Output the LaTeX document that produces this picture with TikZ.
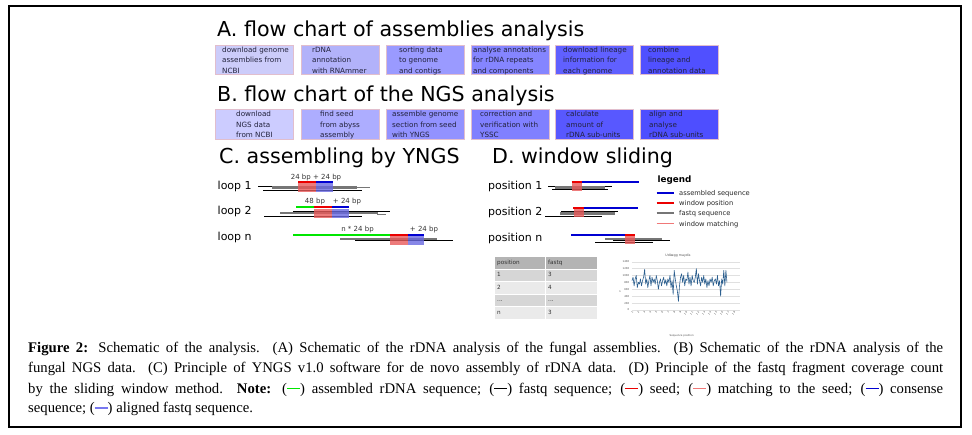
\documentclass[tikz,border=0pt]{standalone}
\usepackage{fontspec}
\setmainfont{Liberation Serif}
\newfontfamily\dv{DejaVu Sans}
\usetikzlibrary{calc}
\definecolor{boxedge}{RGB}{225,190,205}
\definecolor{boxtext}{RGB}{34,34,60}
\definecolor{fa1}{RGB}{204,204,250}
\definecolor{fa2}{RGB}{178,178,250}
\definecolor{fa3}{RGB}{154,154,255}
\definecolor{fa4}{RGB}{133,133,255}
\definecolor{fa5}{RGB}{96,96,255}
\definecolor{fa6}{RGB}{80,80,255}
\definecolor{fb1}{RGB}{204,204,255}
\definecolor{fb2}{RGB}{173,173,255}
\definecolor{fb3}{RGB}{146,146,255}
\definecolor{fb4}{RGB}{128,128,255}
\definecolor{fb5}{RGB}{88,88,255}
\definecolor{fb6}{RGB}{78,78,255}
\definecolor{sgreen}{RGB}{0,230,0}
\definecolor{sred}{RGB}{235,0,0}
\definecolor{sblue}{RGB}{0,0,210}
\definecolor{sgray}{RGB}{118,118,118}
\definecolor{lred}{RGB}{240,120,120}
\definecolor{lblue}{RGB}{120,120,240}
\definecolor{hred}{RGB}{232,90,90}
\definecolor{hblue}{RGB}{105,105,225}
\definecolor{thead}{RGB}{180,180,180}
\definecolor{trowa}{RGB}{214,214,214}
\definecolor{trowb}{RGB}{234,234,234}
\definecolor{chartline}{RGB}{44,95,143}
\newcommand\fbx[8]{%
  \node[abox, fill=#4] (#1) at (#2,#3) {};
  \node[btxt] (#1a) at ($(#1.north west)+(#5,7.5)$) {#6};
  \node[btxt] (#1b) at ($(#1.north west)+(#5,18)$) {#7};
  \node[btxt] (#1c) at ($(#1.north west)+(#5,28.3)$) {#8};
}
\newcommand\cdash[1]{(\textcolor{#1}{\rule[3.9pt]{13pt}{1.8pt}})}
\begin{document}
\begin{tikzpicture}[x=1pt,y=-1pt,
  abox/.style={draw=boxedge, line width=0.6pt, minimum width=78pt, minimum height=29.5pt, inner sep=0pt, anchor=north west},
  btxt/.style={font=\dv\fontsize{7.2}{8}\selectfont, text=boxtext, inner sep=0pt, anchor=base west},
  ttl/.style={font=\dv\fontsize{20.6}{24}\selectfont, inner sep=0pt, anchor=base west},
  lbl/.style={font=\dv\fontsize{11}{13}\selectfont, inner sep=0pt, anchor=base west},
  bp/.style={font=\dv\fontsize{7}{8}\selectfont, inner sep=0pt, anchor=base, text=black!80},
  gseq/.style={draw=sgreen, line width=2pt},
  rseq/.style={draw=sred, line width=2pt},
  bseq/.style={draw=sblue, line width=2pt},
  gread/.style={draw=sgray, line width=2.5pt},
  tread/.style={draw=sgray, line width=0.9pt},
  kread/.style={draw=black, line width=0.9pt},
  hr/.style={fill=hred, fill opacity=0.8},
  hb/.style={fill=hblue, fill opacity=0.8},
  legtxt/.style={font=\dv\fontsize{6.7}{8}\selectfont, inner sep=0pt, anchor=base west, text=black!85},
  ttxt/.style={font=\dv\fontsize{5.7}{7}\selectfont, inner sep=0pt, anchor=base west, text=black!80},
  tiny/.style={font=\dv\fontsize{2.6}{3}\selectfont, inner sep=0pt, text=black!70},
  captext/.style={font=\fontsize{14.7}{17}\selectfont, inner sep=0pt, anchor=base west}
]
\useasboundingbox (0,0) rectangle (972,435);
\draw[line width=1.3pt] (9,6) rectangle (961,427);

% ---------- A ----------
\node[ttl] (tA) at (217,37) {A. flow chart of assemblies analysis};
\fbx{a1}{215}{45}{fa1}{7}{download genome}{assemblies from}{NCBI}
\fbx{a2}{301}{45}{fa2}{11}{rDNA}{annotation}{with RNAmmer}
\fbx{a3}{386}{45}{fa3}{13}{sorting data}{to genome}{and contigs}
\fbx{a4}{471}{45}{fa4}{2}{analyse annotations}{for rDNA repeats}{and components}
\fbx{a5}{555}{45}{fa5}{8}{download lineage}{information for}{each genome}
\fbx{a6}{640}{45}{fa6}{8}{combine}{lineage and}{annotation data}

% ---------- B ----------
\node[ttl] (tB) at (217,101.5) {B. flow chart of the NGS analysis};
\fbx{b1}{215}{109.5}{fb1}{21}{download}{NGS data}{from NCBI}
\fbx{b2}{301}{109.5}{fb2}{19}{find seed}{from abyss}{assembly}
\fbx{b3}{386}{109.5}{fb3}{6}{assemble genome}{section from seed}{with YNGS}
\fbx{b4}{471}{109.5}{fb4}{9}{correction and}{verification with}{YSSC}
\fbx{b5}{555}{109.5}{fb5}{11}{calculate}{amount of}{rDNA sub-units}
\fbx{b6}{640}{109.5}{fb6}{9}{align and}{analyse}{rDNA sub-units}

% ---------- C ----------
\node[ttl] (tC) at (219,164) {C. assembling by YNGS};
\node[lbl] (l1) at (217.5,189.3) {loop 1};
\node[lbl] (l2) at (217.5,214.3) {loop 2};
\node[lbl] (ln) at (217.5,240.8) {loop n};

% loop 1
\node[bp] (c1t) at (316,179.5) {24 bp + 24 bp};
\draw[kread] (258,186) -- (350,186);
\draw[gread] (272,187.5) -- (357,187.5);
\draw[tread] (356,187.3) -- (370,187.3);
\draw[kread] (263,190) -- (362,190);
\fill[hr] (298,183.3) rectangle (316,192);
\fill[hb] (316,183.3) rectangle (333,192);
\draw[rseq] (298,182) -- (316,182);
\draw[bseq] (316,182) -- (333,182);

% loop 2
\node[bp] (c2t) at (315,204) {48 bp};
\node[bp] (c2u) at (347,204) {+ 24 bp};
\draw[kread] (293,211) -- (390,211);
\draw[gread] (280,213) -- (378,213);
\draw[tread] (377,214) -- (386,214);
\draw[kread] (264,216.3) -- (362,216.3);
\fill[hr] (314,209) rectangle (332,218.5);
\fill[hb] (332,209) rectangle (349,218.5);
\draw[gseq] (296,207.5) -- (314,207.5);
\draw[rseq] (314,207.5) -- (332,207.5);
\draw[bseq] (332,207.5) -- (349,207.5);

% loop n
\node[bp] (cnt) at (357.5,231.5) {n * 24 bp};
\node[bp] (cnu) at (424,231.5) {+ 24 bp};
\draw[gread] (340,239) -- (437,239);
\draw[kread] (355,240.5) -- (453,240.5);
\fill[hr] (390,236.5) rectangle (408,245);
\fill[hb] (408,236.5) rectangle (424,245);
\draw[gseq] (293,235) -- (390,235);
\draw[rseq] (390,235) -- (408,235);
\draw[bseq] (408,235) -- (424,235);

% ---------- D ----------
\node[ttl] (tD) at (492,164) {D. window sliding};
\node[lbl] (p1) at (488,190) {position 1};
\node[lbl] (p2) at (488,216) {position 2};
\node[lbl] (pn) at (488,241.5) {position n};

% position 1
\draw[kread] (548,186) -- (612,186);
\draw[gread] (555,187.6) -- (605,187.6);
\draw[kread] (552,189.6) -- (608,189.6);
\fill[hr] (572,183.5) rectangle (582,191.2);
\draw[rseq] (571.5,182.5) -- (582,182.5);
\draw[bseq] (582,182.5) -- (639,182.5);

% position 2
\draw[kread] (561,211) -- (618,211);
\draw[gread] (560,213.3) -- (615,213.3);
\draw[kread] (545,216) -- (602,216);
\fill[hr] (574,209.3) rectangle (584,217.5);
\draw[rseq] (573,207.7) -- (584,207.7);
\draw[bseq] (584,207.7) -- (638,207.7);

% position n
\draw[gread] (605,239) -- (662,239);
\draw[kread] (613,240.5) -- (670,240.5);
\draw[kread] (595,242.5) -- (653,242.5);
\fill[hr] (625,236.5) rectangle (635,244.5);
\draw[bseq] (571,235.3) -- (625,235.3);
\draw[rseq] (625,235.3) -- (635,235.3);

% legend
\node[font=\dv\bfseries\fontsize{8.8}{10}\selectfont, inner sep=0pt, anchor=base west] (legt) at (657.5,182.5) {legend};
\coordinate (lg1a) at (656.7,192.7); \coordinate (lg1b) at (674,192.7);
\coordinate (lg2a) at (656.7,203.3); \coordinate (lg2b) at (674,203.3);
\coordinate (lg3a) at (656.7,213.3); \coordinate (lg3b) at (674,213.3);
\coordinate (lg4a) at (656.7,223.7); \coordinate (lg4b) at (674,223.7);
\draw[bseq, line width=1.8pt] (lg1a) -- (lg1b);
\draw[rseq, line width=1.8pt] (lg2a) -- (lg2b);
\draw[draw=sgray, line width=1.8pt] (lg3a) -- (lg3b);
\draw[draw=lred, line width=1.4pt] (lg4a) -- (lg4b);
\node[legtxt] (lgt1) at (679,195.2) {assembled sequence};
\node[legtxt] (lgt2) at (679,205.8) {window position};
\node[legtxt] (lgt3) at (679,215.8) {fastq sequence};
\node[legtxt] (lgt4) at (679,226.2) {window matching};

% table
\begin{scope}[draw=white, line width=0.8pt]
\filldraw[fill=thead] (494,256) rectangle (545,269.3);
\filldraw[fill=thead] (545,256) rectangle (597,269.3);
\filldraw[fill=trowa] (494,269.3) rectangle (545,281.7);
\filldraw[fill=trowa] (545,269.3) rectangle (597,281.7);
\filldraw[fill=trowb] (494,281.7) rectangle (545,294.3);
\filldraw[fill=trowb] (545,281.7) rectangle (597,294.3);
\filldraw[fill=trowa] (494,294.3) rectangle (545,306.7);
\filldraw[fill=trowa] (545,294.3) rectangle (597,306.7);
\filldraw[fill=trowb] (494,306.7) rectangle (545,319.3);
\filldraw[fill=trowb] (545,306.7) rectangle (597,319.3);
\end{scope}
\node[ttxt] (t00) at (497,264.5) {position};
\node[ttxt] (t01) at (548,264.5) {fastq};
\node[ttxt] (t10) at (497,277) {1};
\node[ttxt] (t11) at (548,277) {3};
\node[ttxt] (t20) at (497,289.5) {2};
\node[ttxt] (t21) at (548,289.5) {4};
\node[ttxt] (t30) at (497,302) {...};
\node[ttxt] (t31) at (548,302) {...};
\node[ttxt] (t40) at (497,314.5) {n};
\node[ttxt] (t41) at (548,314.5) {3};

% chart
\node[tiny, font=\dv\fontsize{3.2}{4}\selectfont] (cht) at (678,256) {Udlægg maydis};
\foreach \v [count=\k] in {0,200,400,600,800,1000,1200,1400} {
  \draw[black!12, line width=0.3pt] (631.7,{310-\v*0.0345}) -- (740,{310-\v*0.0345});
  \node[tiny, anchor=east] (yl\k) at (629.5,{310-\v*0.0345}) {\v};
}
\node[tiny] (yax) at (620,291.7) {n};
\foreach \k in {1,...,18} {
  \node[tiny, rotate=45, anchor=east] (xl\k) at ({633+(\k-1)*6},312) {\k};
}
\node[tiny] (xax) at (681.7,336) {Sequence position};
\foreach \v [count=\i] in {850,950,700,900,1000,650,800,750,900,700,850,950,1180,750,900,650,850,1000,700,950,800,900,750,1000,850,600,800,900,700,850,950,750,880,700,900,800,1000,650,850,450,1150,900,700,550,250,700,950,1050,800,1000,700,900,850,1100,750,950,700,1000,850,800,950,1200,750,1050,850,700,950,800,1000,750,900,650,850,700,900,800,950,700,850,900,750,1000,700,850,400,900,750,1150,700,1150,800}
  \coordinate (q\i) at ({632+(\i-1)*1.055},{310-\v*0.0345});
\draw[chartline, line width=0.6pt, line join=round] (q1) \foreach \i in {2,...,91} { -- (q\i) };

% caption
\node[captext] (cap1) at (28,353) {\makebox[915pt][s]{\textbf{Figure 2:} Schematic of the analysis. (A) Schematic of the rDNA analysis of the fungal assemblies. (B) Schematic of the rDNA analysis of the}};
\node[captext] (cap2) at (28,373) {\makebox[915pt][s]{fungal NGS data. (C) Principle of YNGS v1.0 software for de novo assembly of rDNA data. (D) Principle of the fastq fragment coverage count}};
\node[captext] (cap3) at (28,393.3) {\makebox[915pt][s]{by the sliding window method. \textbf{Note:} \cdash{sgreen} assembled rDNA sequence; \cdash{black} fastq sequence; \cdash{sred} seed; \cdash{lred} matching to the seed; \cdash{sblue} consense}};
\node[captext] (cap4) at (28,412.5) {sequence; \cdash{lblue} aligned fastq sequence.};
\end{tikzpicture}
\end{document}
